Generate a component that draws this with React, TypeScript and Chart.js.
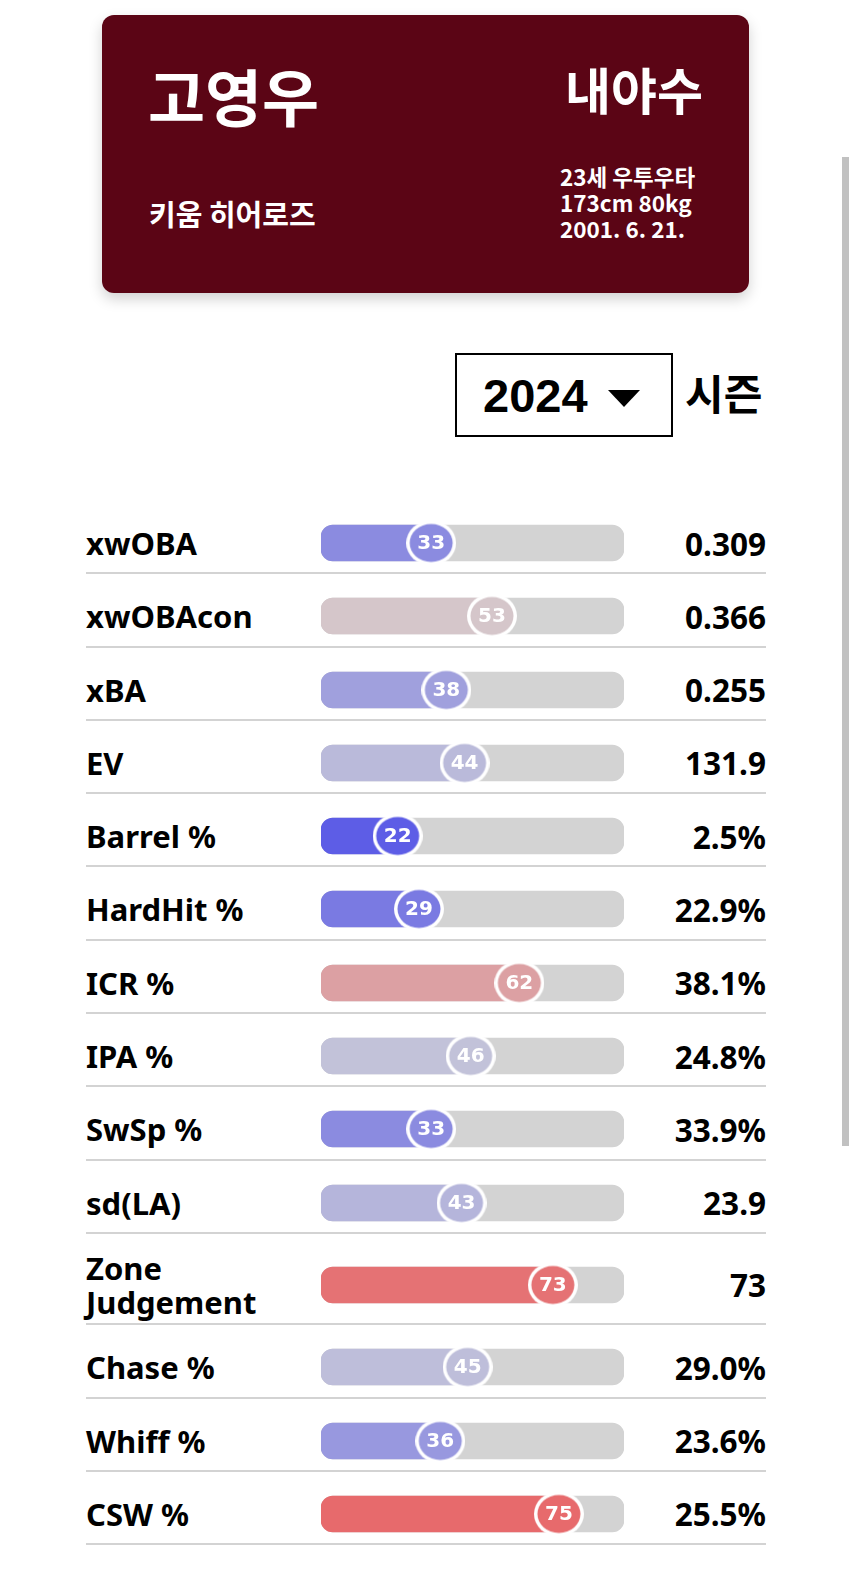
import React, { useEffect, useRef } from 'react';
import { Chart, registerables } from 'chart.js';

Chart.register(...registerables);

// ---- data ----
const playerName = '고영우';
const playerPosition = '내야수';
const playerTeam = '키움 히어로즈';
const profileLines = ['23세 우투우타', '173cm 80kg', '2001. 6. 21.'];
const seasonYear = '2024';
const seasonSuffix = '시즌';

const categories = [
  'xwOBA',
  'xwOBAcon',
  'xBA',
  'EV',
  'Barrel %',
  'HardHit %',
  'ICR %',
  'IPA %',
  'SwSp %',
  'sd(LA)',
  'Zone Judgement',
  'Chase %',
  'Whiff %',
  'CSW %',
];
const percentiles = [33, 53, 38, 44, 22, 29, 62, 46, 33, 43, 73, 45, 36, 75];
const statValues = [
  '0.309',
  '0.366',
  '0.255',
  '131.9',
  '2.5%',
  '22.9%',
  '38.1%',
  '24.8%',
  '33.9%',
  '23.9',
  '73',
  '29.0%',
  '23.6%',
  '25.5%',
];

// ---- scale / style settings ----
const AXIS_MIN = -3.2;
const AXIS_MAX = 96.4;
const TRACK_COLOR = '#d3d3d3';

function percentileColor(v: number): string {
  const blue = [0, 0, 242];
  const grey = [211, 211, 215];
  const red = [250, 0, 0];
  const from = grey;
  let to: number[];
  let t: number;
  if (v < 50) {
    to = blue;
    t = (50 - v) / 50;
  } else {
    to = red;
    t = (v - 50) / 50;
  }
  const c = from.map((f, i) => Math.round(f + (to[i] - f) * t));
  return `rgb(${c[0]}, ${c[1]}, ${c[2]})`;
}

// marker image: white-ringed oval, as in the reference
function makeMarker(color: string): HTMLCanvasElement {
  const w = 50;
  const h = 45;
  const c = document.createElement('canvas');
  c.width = w;
  c.height = h;
  const ctx = c.getContext('2d') as CanvasRenderingContext2D;
  ctx.fillStyle = '#ffffff';
  ctx.beginPath();
  ctx.ellipse(w / 2, h / 2, w / 2, h / 2, 0, 0, Math.PI * 2);
  ctx.fill();
  ctx.fillStyle = color;
  ctx.beginPath();
  ctx.ellipse(w / 2, h / 2, w / 2 - 3.5, h / 2 - 3.5, 0, 0, Math.PI * 2);
  ctx.fill();
  return c;
}

const circleLabelPlugin = {
  id: 'circleLabel',
  afterDatasetsDraw(chart: any) {
    const meta = chart.getDatasetMeta(0);
    const pt = meta.data[0];
    if (!pt) return;
    const raw = chart.data.datasets[0].data[0].x;
    const ctx = chart.ctx;
    ctx.save();
    ctx.fillStyle = '#ffffff';
    ctx.font = 'bold 20px "DejaVu Sans", sans-serif';
    ctx.textAlign = 'center';
    ctx.textBaseline = 'middle';
    ctx.fillText(String(raw), pt.x, pt.y + 1);
    ctx.restore();
  },
};

function StatBar({ index }: { index: number }) {
  const ref = useRef<HTMLCanvasElement | null>(null);
  useEffect(() => {
    const v = percentiles[index];
    const label = categories[index];
    const color = percentileColor(v);
    const marker = makeMarker(color);
    const chart = new Chart(ref.current as HTMLCanvasElement, {
      type: 'bar',
      data: {
        labels: [label],
        datasets: [
          {
            type: 'scatter',
            indexAxis: 'y',
            xAxisID: 'x',
            yAxisID: 'y',
            data: [{ x: v, y: label }],
            pointStyle: marker,
            pointRadius: 22,
            pointHoverRadius: 22,
            pointBackgroundColor: color,
            pointBorderWidth: 0,
            clip: false,
          } as any,
          {
            type: 'bar',
            indexAxis: 'y',
            xAxisID: 'x',
            yAxisID: 'y',
            data: [v],
            base: AXIS_MIN,
            backgroundColor: color,
            barThickness: 36,
            borderRadius: 12,
            borderSkipped: false,
            grouped: false,
            clip: false,
          } as any,
          {
            type: 'bar',
            indexAxis: 'y',
            xAxisID: 'x',
            yAxisID: 'y',
            data: [AXIS_MAX],
            base: AXIS_MIN,
            backgroundColor: TRACK_COLOR,
            barThickness: 36,
            borderRadius: 12,
            borderSkipped: false,
            grouped: false,
            clip: false,
          } as any,
        ],
      },
      options: {
        indexAxis: 'y',
        responsive: false,
        maintainAspectRatio: false,
        animation: false,
        events: [],
        layout: { autoPadding: false, padding: 0 },
        scales: {
          x: { type: 'linear', display: false, min: AXIS_MIN, max: AXIS_MAX },
          y: { type: 'category', display: false, offset: true },
        },
        plugins: {
          legend: { display: false },
          tooltip: { enabled: false },
        },
      } as any,
      plugins: [circleLabelPlugin],
    });
    return () => chart.destroy();
  }, [index]);
  return (
    <canvas
      ref={ref}
      width={303}
      height={46}
      style={{ display: 'block', width: 303, height: 46 }}
    />
  );
}

const KR = '"Noto Sans CJK KR", "Noto Sans", sans-serif';
const LATIN = '"Noto Sans", "Noto Sans CJK KR", sans-serif';

export default function App() {
  return (
    <div style={{ position: 'relative', width: 842, height: 1560, fontFamily: LATIN, color: '#000' }}>
      {/* player card */}
      <div
        style={{
          position: 'absolute',
          left: 94,
          top: 7,
          width: 647,
          height: 278,
          background: '#5b0515',
          borderRadius: 12,
          boxShadow: '0 6px 14px rgba(0,0,0,0.18)',
          color: '#ffffff',
          fontFamily: KR,
          fontWeight: 700,
        }}
      >
        <div style={{ position: 'absolute', left: 46, top: 49, fontSize: 62, lineHeight: 1 }}>{playerName}</div>
        <div style={{ position: 'absolute', right: 46, top: 48, fontSize: 50, lineHeight: 1 }}>{playerPosition}</div>
        <div style={{ position: 'absolute', left: 47, top: 184, fontSize: 29, lineHeight: 1 }}>{playerTeam}</div>
        <div
          style={{
            position: 'absolute',
            left: 458,
            top: 148,
            fontSize: 22.5,
            lineHeight: '26px',
            whiteSpace: 'pre',
          }}
        >
          {profileLines.join('\n')}
        </div>
      </div>

      {/* season selector */}
      <div
        style={{
          position: 'absolute',
          left: 447,
          top: 345,
          width: 218,
          height: 84,
          boxSizing: 'border-box',
          border: '2px solid #000',
          display: 'flex',
          alignItems: 'center',
          paddingLeft: 26,
          fontFamily: '"Liberation Sans", Arial, sans-serif',
          fontWeight: 700,
          fontSize: 47,
        }}
      >
        <span>{seasonYear}</span>
        <div
          style={{
            position: 'absolute',
            left: 151,
            top: 35,
            width: 0,
            height: 0,
            borderLeft: '16px solid transparent',
            borderRight: '16px solid transparent',
            borderTop: '17px solid #000',
          }}
        />
      </div>
      <div
        style={{
          position: 'absolute',
          left: 677,
          top: 363,
          fontFamily: KR,
          fontWeight: 700,
          fontSize: 42,
          lineHeight: 1,
        }}
      >
        {seasonSuffix}
      </div>

      {/* stat rows */}
      <div style={{ position: 'absolute', left: 78, top: 493, width: 680 }}>
        {categories.map((c, i) => (
          <div
            key={c}
            style={{
              display: 'flex',
              alignItems: 'center',
              paddingTop: 24,
              paddingBottom: 11.3,
              minHeight: 36,
              borderBottom: '2px solid #d3d3d3',
            }}
          >
            <div style={{ width: 225, fontSize: 31, lineHeight: '34px', margin: '-7px 0', fontWeight: 700 }}>{c}</div>
            <div style={{ position: 'relative', width: 303, height: 36, marginLeft: 10 }}>
              <div style={{ position: 'absolute', left: 0, top: -5 }}>
                <StatBar index={i} />
              </div>
            </div>
            <div style={{ flex: 1, textAlign: 'right', fontSize: 31.5, lineHeight: '27px', fontWeight: 700 }}>
              {statValues[i]}
            </div>
          </div>
        ))}
      </div>

      {/* scrollbar thumb as in the screenshot */}
      <div
        style={{
          position: 'fixed',
          left: 842,
          top: 157,
          width: 7,
          height: 989,
          background: '#c1c1c1',
          zIndex: 10,
        }}
      />
    </div>
  );
}
